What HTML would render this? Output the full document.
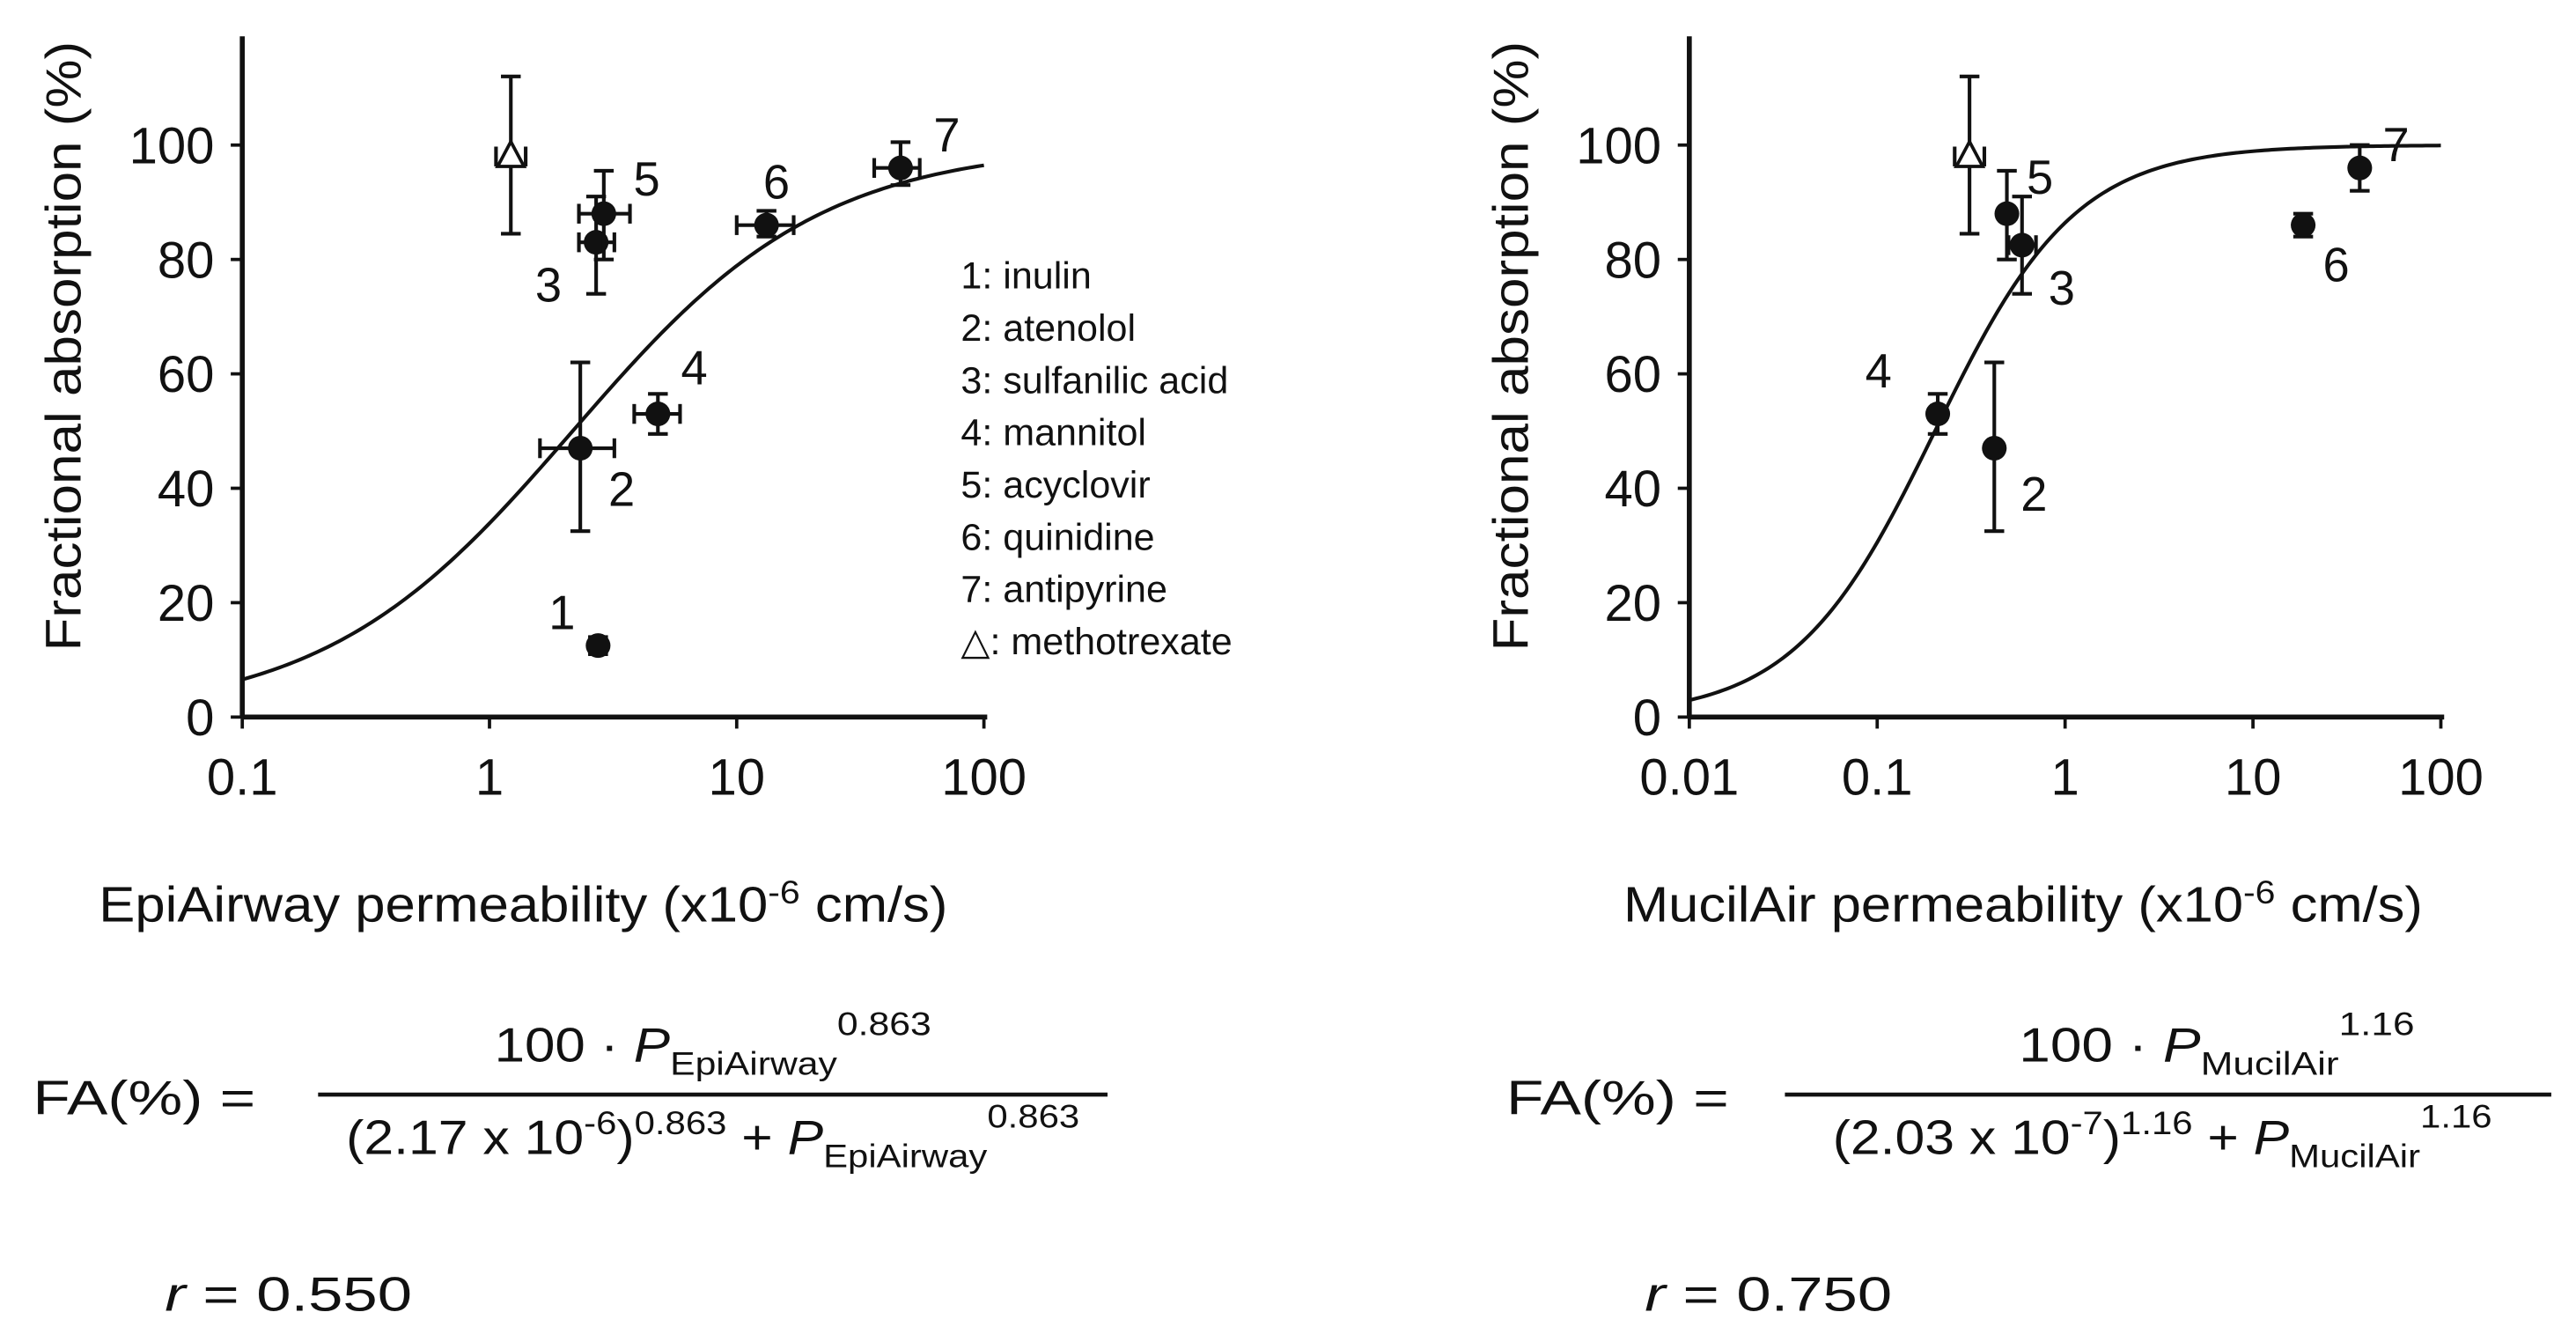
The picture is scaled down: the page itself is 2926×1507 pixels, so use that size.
<!DOCTYPE html>
<html><head><meta charset="utf-8"><style>
html,body{margin:0;padding:0;background:#fff}
svg{display:block}
text{font-family:"Liberation Sans",Arial,sans-serif;fill:#111}
</style></head><body>
<svg id="fig" width="2926" height="1507" viewBox="0 0 1563 805" xmlns="http://www.w3.org/2000/svg">
<g id="left"></g>
<g id="right"></g>
<g id="legend"></g>

<g font-size="29">
<text x="20" y="676" textLength="135" lengthAdjust="spacingAndGlyphs">FA(%)  =</text>
<line x1="193" y1="664" x2="672" y2="664" stroke="#111" stroke-width="2.5"/>
<text x="300" y="644" textLength="265" lengthAdjust="spacingAndGlyphs">100 · <tspan font-style="italic">P</tspan><tspan font-size="20" dy="8">EpiAirway</tspan><tspan font-size="20" dy="-24">0.863</tspan></text>
<text x="210" y="700" textLength="445" lengthAdjust="spacingAndGlyphs">(2.17 x 10<tspan font-size="20" dy="-12">-6</tspan><tspan dy="12">)</tspan><tspan font-size="20" dy="-12">0.863</tspan><tspan dy="12"> + </tspan><tspan font-style="italic">P</tspan><tspan font-size="20" dy="8">EpiAirway</tspan><tspan font-size="20" dy="-24">0.863</tspan></text>
<text x="100" y="795" textLength="150" lengthAdjust="spacingAndGlyphs"><tspan font-style="italic">r</tspan>  =  0.550</text>
</g>
<g font-size="29">
<text x="914" y="676" textLength="135" lengthAdjust="spacingAndGlyphs">FA(%)  =</text>
<line x1="1083" y1="664" x2="1548" y2="664" stroke="#111" stroke-width="2.5"/>
<text x="1225" y="644" textLength="240" lengthAdjust="spacingAndGlyphs">100 · <tspan font-style="italic">P</tspan><tspan font-size="20" dy="8">MucilAir</tspan><tspan font-size="20" dy="-24">1.16</tspan></text>
<text x="1112" y="700" textLength="400" lengthAdjust="spacingAndGlyphs">(2.03 x 10<tspan font-size="20" dy="-12">-7</tspan><tspan dy="12">)</tspan><tspan font-size="20" dy="-12">1.16</tspan><tspan dy="12"> + </tspan><tspan font-style="italic">P</tspan><tspan font-size="20" dy="8">MucilAir</tspan><tspan font-size="20" dy="-24">1.16</tspan></text>
<text x="998" y="795" textLength="150" lengthAdjust="spacingAndGlyphs"><tspan font-style="italic">r</tspan>  =  0.750</text>
</g>
</svg>
<script>
// EpiAirway data
const epiLabels = ["1","2","3","4","5","6","7"];
const epiX = [2.75, 2.33, 2.7, 4.8, 2.9, 13.2, 46];
const epiXlo = [2.55, 1.6, 2.3, 3.85, 2.3, 10, 36];
const epiXhi = [2.95, 3.2, 3.2, 5.9, 3.7, 17, 55];
const epiY = [12.5, 47, 83, 53, 88, 86, 96];
const epiYlo = [11, 32.5, 74, 49.5, 80, 84, 93];
const epiYhi = [14, 62, 91, 56.5, 95.5, 88.5, 100.5];
const epiTri = [1.22, 98, 84.5, 112];
const epiFit = [2.17, 0.863];
// MucilAir data
const mucX = [0.42, 0.59, 0.21, 0.49, 18.5, 37];
const mucLabels = ["2","3","4","5","6","7"];
const mucXlo = [0.4, 0.5, 0.195, 0.46, 17.5, 35];
const mucXhi = [0.44, 0.7, 0.225, 0.52, 19.5, 39];
const mucY = [47, 82.5, 53, 88, 86, 96];
const mucYlo = [32.5, 74, 49.5, 80, 84, 92];
const mucYhi = [62, 91, 56.5, 95.5, 88, 100];
const mucTri = [0.31, 98, 84.5, 112];
const mucFit = [0.203, 1.16];
const yTicks = [0, 20, 40, 60, 80, 100];
const epiXTicks = ["0.1", "1", "10", "100"];
const mucXTicks = ["0.01", "0.1", "1", "10", "100"];
const legendItems = ["1: inulin","2: atenolol","3: sulfanilic acid","4: mannitol","5: acyclovir","6: quinidine","7: antipyrine","\u25B3: methotrexate"];

const NS = "http://www.w3.org/2000/svg";
function mk(parent, tag, attrs, txt){
  const e = document.createElementNS(NS, tag);
  for (const k in attrs) e.setAttribute(k, attrs[k]);
  if (txt !== undefined) e.textContent = txt;
  parent.appendChild(e); return e;
}
function yS(v){ return 435 - v * 3.47; }

function drawChart(g, cfg){
  const x0 = cfg.x0, dec = cfg.dec, lmin = cfg.lmin;
  const xS = v => x0 + (Math.log10(v) - lmin) * dec;
  const xEnd = x0 + cfg.ndec * dec;
  let e;
  e = mk(g, "line", {x1:x0, y1:22, x2:x0, y2:435, stroke:"#111", "stroke-width":3});
  
  
  e = mk(g, "line", {x1:x0, y1:435, x2:xEnd+2, y2:435, stroke:"#111", "stroke-width":3});
  
  
  yTicks.forEach(v => {
    mk(g, "line", {x1:x0-7, y1:yS(v), x2:x0, y2:yS(v), stroke:"#111", "stroke-width":2});
    e = mk(g, "text", {x:x0-17, y:yS(v)+11, "font-size":31, "text-anchor":"end"}, String(v));
    
    
  });
  cfg.xticks.forEach(t => {
    const px = xS(parseFloat(t));
    mk(g, "line", {x1:px, y1:435, x2:px, y2:442, stroke:"#111", "stroke-width":2});
    e = mk(g, "text", {x:px, y:482, "font-size":31, "text-anchor":"middle"}, t);
    
    
  });
  e = mk(g, "text", {x:0, y:0, "font-size":30, textLength:370, lengthAdjust:"spacingAndGlyphs", transform:"translate("+(x0-98)+",395) rotate(-90)"}, "Fractional absorption (%)");
  
  
  e = mk(g, "text", {x:cfg.titleX, y:559, "font-size":30, textLength:cfg.titleW, lengthAdjust:"spacingAndGlyphs"});
  e.innerHTML = cfg.title + ' (x10<tspan font-size="20" dy="-11">-6</tspan><tspan dy="11"> cm/s)</tspan>';
  
  
  // fit curve
  let d = "";
  const [p50, n] = cfg.fit;
  for (let i = 0; i <= 200; i++){
    const lp = lmin + cfg.ndec * i / 200, p = Math.pow(10, lp);
    const fa = 100 * Math.pow(p, n) / (Math.pow(p50, n) + Math.pow(p, n));
    d += (i ? "L" : "M") + xS(p).toFixed(2) + "," + yS(fa).toFixed(2);
  }
  e = mk(g, "path", {d:d, fill:"none", stroke:"#111", "stroke-width":2.2});
  
  
  // points
  cfg.X.forEach((xv, i) => {
    const pg = mk(g, "g", {});
    
    
    const px = xS(xv), py = yS(cfg.Y[i]);
    const a = xS(cfg.Xlo[i]), b = xS(cfg.Xhi[i]), c = yS(cfg.Ylo[i]), t = yS(cfg.Yhi[i]);
    const st = {stroke:"#111", "stroke-width":2.2};
    mk(pg, "line", Object.assign({x1:px, y1:c, x2:px, y2:t}, st));
    mk(pg, "line", Object.assign({x1:px-6, y1:c, x2:px+6, y2:c}, st));
    mk(pg, "line", Object.assign({x1:px-6, y1:t, x2:px+6, y2:t}, st));
    mk(pg, "line", Object.assign({x1:a, y1:py, x2:b, y2:py}, st));
    mk(pg, "line", Object.assign({x1:a, y1:py-6, x2:a, y2:py+6}, st));
    mk(pg, "line", Object.assign({x1:b, y1:py-6, x2:b, y2:py+6}, st));
    mk(pg, "circle", {cx:px, cy:py, r:7.5, fill:"#111"});
    const off = cfg.lblOff[i];
    mk(pg, "text", {x:px+off[0], y:py+off[1], "font-size":29}, cfg.labels[i]);
  });
  // triangle
  const tg = mk(g, "g", {});
  
  
  const tx = xS(cfg.tri[0]), ty = yS(cfg.tri[1]), tl = yS(cfg.tri[2]), th = yS(cfg.tri[3]);
  const st = {stroke:"#111", "stroke-width":2.2};
  mk(tg, "line", Object.assign({x1:tx, y1:tl, x2:tx, y2:th}, st));
  mk(tg, "line", Object.assign({x1:tx-6, y1:tl, x2:tx+6, y2:tl}, st));
  mk(tg, "line", Object.assign({x1:tx-6, y1:th, x2:tx+6, y2:th}, st));
  mk(tg, "line", Object.assign({x1:tx-9, y1:ty-6, x2:tx-9, y2:ty+6}, st));
  mk(tg, "line", Object.assign({x1:tx+9, y1:ty-6, x2:tx+9, y2:ty+6}, st));
  mk(tg, "polygon", {points:(tx)+","+(ty-9)+" "+(tx-8)+","+(ty+6)+" "+(tx+8)+","+(ty+6), fill:"#fff", stroke:"#111", "stroke-width":2});
}

drawChart(document.getElementById("left"), {
  x0:147, dec:150, lmin:-1, ndec:3, xticks:epiXTicks, title:"EpiAirway permeability", titleX:60, titleW:515,
  fit:epiFit, X:epiX, Xlo:epiXlo, Xhi:epiXhi, Y:epiY, Ylo:epiYlo, Yhi:epiYhi, labels:epiLabels, tri:epiTri,
  lblOff:[[-30,-10],[17,35],[-37,36],[14,-18],[18,-11],[-2,-16],[20,-10]]
});
drawChart(document.getElementById("right"), {
  x0:1025, dec:114, lmin:-2, ndec:4, xticks:mucXTicks, title:"MucilAir permeability", titleX:985, titleW:485,
  fit:mucFit, X:mucX, Xlo:mucXlo, Xhi:mucXhi, Y:mucY, Ylo:mucYlo, Yhi:mucYhi, labels:mucLabels, tri:mucTri,
  lblOff:[[16,38],[16,36],[-44,-16],[12,-12],[12,34],[14,-4]]
});
const lg = document.getElementById("legend");
legendItems.forEach((t, i) => {
  const e = mk(lg, "text", {x:583, y:175 + i * 31.7, "font-size":23}, t);
  
  
});
</script>
</body></html>
